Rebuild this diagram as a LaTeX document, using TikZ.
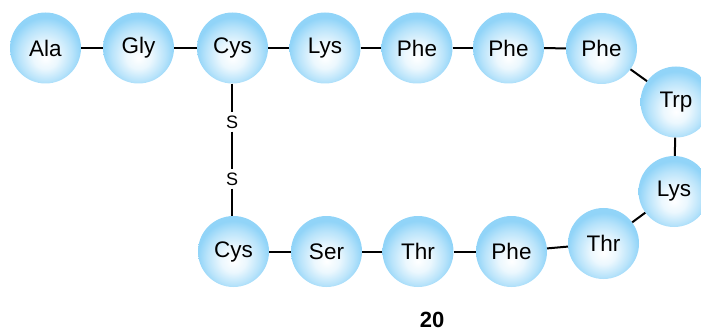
\documentclass[tikz,border=0pt]{standalone}
\usepackage{fontspec}
\setmainfont{Liberation Sans}
\definecolor{ballblue}{RGB}{145,212,248}
\pgfdeclareradialshading{aminoball}{\pgfpoint{0bp}{-7bp}}{%
  color(0bp)=(white); color(9bp)=(ballblue!18!white); color(19bp)=(ballblue!65!white);
  color(25bp)=(ballblue); color(50bp)=(ballblue)}
\tikzset{
  res/.style={circle, minimum size=71pt, inner sep=0pt, shading=aminoball,
    font=\fontsize{22.5}{25}\selectfont},
  sulf/.style={inner sep=3pt, font=\fontsize{18}{20}\selectfont},
  bond/.style={line width=2pt, black}
}
\begin{document}
\begin{tikzpicture}[x=1pt,y=-1pt]
\clip (0,0) rectangle (701,331);
\node[res] (ala) at (45.5,48) {Ala};
\node[res] (gly) at (138.5,48) {Gly};
\node[res] (cysA) at (232.5,48) {Cys};
\node[res] (lysA) at (325,48) {Lys};
\node[res] (pheA) at (417,48) {Phe};
\node[res] (pheB) at (508.5,48) {Phe};
\node[res] (pheC) at (601.5,48.5) {Phe};
\node[res] (trp) at (676,102) {Trp};
\node[res] (lysB) at (674,191.5) {Lys};
\node[res] (thrA) at (603.5,243.5) {Thr};
\node[res] (pheD) at (511.5,251.5) {Phe};
\node[res] (thrB) at (418,251.5) {Thr};
\node[res] (ser) at (326.5,251.5) {Ser};
\node[res] (cysB) at (233.5,251.5) {Cys};
\node[sulf] (s1) at (232,122) {S};
\node[sulf] (s2) at (232,179) {S};
\node[inner sep=0pt, font=\fontsize{22}{24}\selectfont\bfseries] (num) at (432,320) {20};
\draw[bond] (ala) -- (gly);
\draw[bond] (gly) -- (cysA);
\draw[bond] (cysA) -- (lysA);
\draw[bond] (lysA) -- (pheA);
\draw[bond] (pheA) -- (pheB);
\draw[bond] (pheB) -- (pheC);
\draw[bond] (pheC) -- (trp);
\draw[bond] (trp) -- (lysB);
\draw[bond] (lysB) -- (thrA);
\draw[bond] (thrA) -- (pheD);
\draw[bond] (pheD) -- (thrB);
\draw[bond] (thrB) -- (ser);
\draw[bond] (ser) -- (cysB);
\draw[bond] (cysA.south -| s1) -- (s1);
\draw[bond] (s1) -- (s2);
\draw[bond] (s2) -- (cysB.north -| s2);
\end{tikzpicture}
\end{document}
